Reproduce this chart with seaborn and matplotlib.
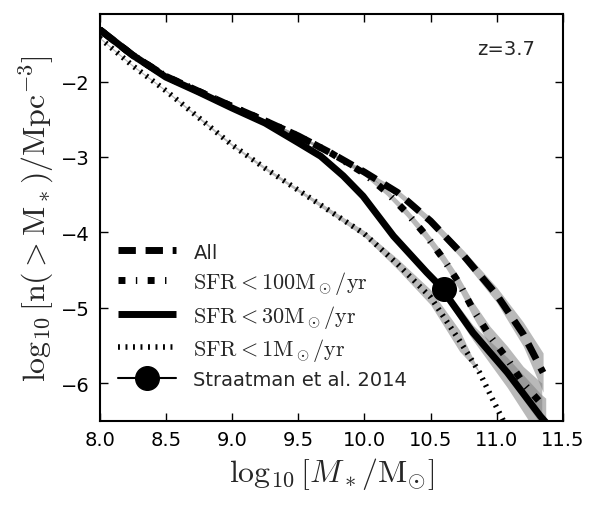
import matplotlib
matplotlib.use("Agg")
import matplotlib.pyplot as plt
import numpy as np
import pandas as pd
import seaborn as sns

# cumulative stellar mass functions at z=3.7
mass_all = [8.0, 8.25, 8.5, 8.75, 9.0, 9.25, 9.5, 9.75, 10.0, 10.25, 10.5, 10.75, 11.0, 11.2, 11.35]
n_all = [-1.31, -1.65, -1.93, -2.13, -2.33, -2.52, -2.72, -2.95, -3.20, -3.47, -3.85, -4.31, -4.83, -5.35, -5.86]
err_all = [0.01, 0.01, 0.01, 0.01, 0.015, 0.015, 0.02, 0.02, 0.03, 0.04, 0.05, 0.07, 0.1, 0.16, 0.26]

mass_100 = [8.0, 8.25, 8.5, 8.75, 9.0, 9.25, 9.5, 9.75, 10.0, 10.17, 10.32, 10.47, 10.6, 10.71, 10.82, 10.95, 11.08, 11.2, 11.34]
n_100 = [-1.31, -1.65, -1.93, -2.13, -2.33, -2.52, -2.72, -2.95, -3.22, -3.47, -3.74, -4.05, -4.36, -4.66, -5.02, -5.38, -5.68, -6.0, -6.28]
err_100 = [0.01, 0.01, 0.01, 0.01, 0.015, 0.015, 0.02, 0.02, 0.03, 0.04, 0.05, 0.06, 0.07, 0.08, 0.1, 0.13, 0.17, 0.22, 0.28]

mass_30 = [8.0, 8.25, 8.5, 8.75, 9.0, 9.25, 9.5, 9.67, 9.84, 9.99, 10.22, 10.47, 10.57, 10.82, 11.08, 11.33, 11.37]
n_30 = [-1.31, -1.65, -1.94, -2.14, -2.35, -2.55, -2.81, -2.99, -3.25, -3.52, -4.05, -4.53, -4.71, -5.33, -5.86, -6.44, -6.52]
err_30 = [0.01, 0.01, 0.01, 0.01, 0.015, 0.015, 0.02, 0.02, 0.03, 0.03, 0.04, 0.05, 0.06, 0.1, 0.2, 0.3, 0.32]

mass_1 = [8.0, 8.25, 8.5, 8.75, 9.0, 9.25, 9.5, 9.75, 10.0, 10.25, 10.5, 10.72, 10.87, 10.97, 11.05]
n_1 = [-1.42, -1.79, -2.12, -2.48, -2.84, -3.15, -3.44, -3.73, -4.02, -4.42, -4.86, -5.44, -5.86, -6.22, -6.5]
err_1 = [0.01, 0.01, 0.01, 0.015, 0.015, 0.02, 0.02, 0.03, 0.04, 0.07, 0.1, 0.14, 0.0, 0.0, 0.0]

obs_mass = [10.6]
obs_n = [-4.75]

labels = ['All', r'$\rm SFR<100M_\odot/yr$', r'$\rm SFR<30M_\odot/yr$', r'$\rm SFR<1M_\odot/yr$']

sns.set_style("ticks")
plt.rcParams['font.family'] = ['DejaVu Sans']
plt.rcParams['mathtext.fontset'] = 'cm'

fig = plt.figure(figsize=(6.04, 5.10), dpi=100)
ax = fig.add_axes([0.165, 0.173, 0.767, 0.798])

series = [(mass_all, n_all, err_all, (2.5, 1.4), 5),
          (mass_100, n_100, err_100, (1.0, 1.5, 0.2, 1.5), 5),
          (mass_30, n_30, err_30, None, 5),
          (mass_1, n_1, err_1, (0.35, 1.0), 4)]

for (m, n, e, dash, lw), lab in zip(series, labels):
    m = np.array(m); n = np.array(n); e = np.array(e)
    ax.fill_between(m, n - e, n + e, color='gray', alpha=0.55, lw=0)
    df = pd.DataFrame({'mass': m, 'n': n})
    sns.lineplot(data=df, x='mass', y='n', ax=ax, color='k', lw=lw,
                 label=lab, sort=False)
    line = ax.lines[-1]
    line.set_solid_capstyle('butt')
    line.set_dash_capstyle('butt')
    if dash is not None:
        line.set_dashes(dash)

ax.plot(obs_mass, obs_n, '-o', color='k', ms=17, lw=1.5,
        label='Straatman et al. 2014')

ax.set_xlim(8.0, 11.5)
ax.set_ylim(-6.5, -1.1)
ax.set_xticks([8.0, 8.5, 9.0, 9.5, 10.0, 10.5, 11.0, 11.5])
ax.set_yticks([-2, -3, -4, -5, -6])
ax.set_yticklabels(['\u22122', '\u22123', '\u22124', '\u22125', '\u22126'])
ax.tick_params(direction='in', top=True, right=True, length=6, width=1,
               labelsize=14, pad=7, colors='k')
for s in ax.spines.values():
    s.set_linewidth(1.5)
    s.set_color('k')

ax.set_xlabel(r'$\log_{10}[M_*/\rm M_{\odot}]$', fontsize=23, labelpad=4)
ax.set_ylabel(r'$\log_{10}[\rm n(>M_*)/Mpc^{-3}]$', fontsize=23, labelpad=4)
ax.text(0.94, 0.915, 'z=3.7', transform=ax.transAxes, ha='right', va='center', fontsize=14)

leg = ax.legend(loc='lower left', bbox_to_anchor=(0.02, 0.055), frameon=False,
                fontsize=16, handlelength=2.6, labelspacing=0.3,
                borderaxespad=0, numpoints=1, handletextpad=0.8)
for t in leg.get_texts()[:1] + leg.get_texts()[-1:]:
    t.set_fontsize(14)

fig.savefig('out.png', dpi=100)
